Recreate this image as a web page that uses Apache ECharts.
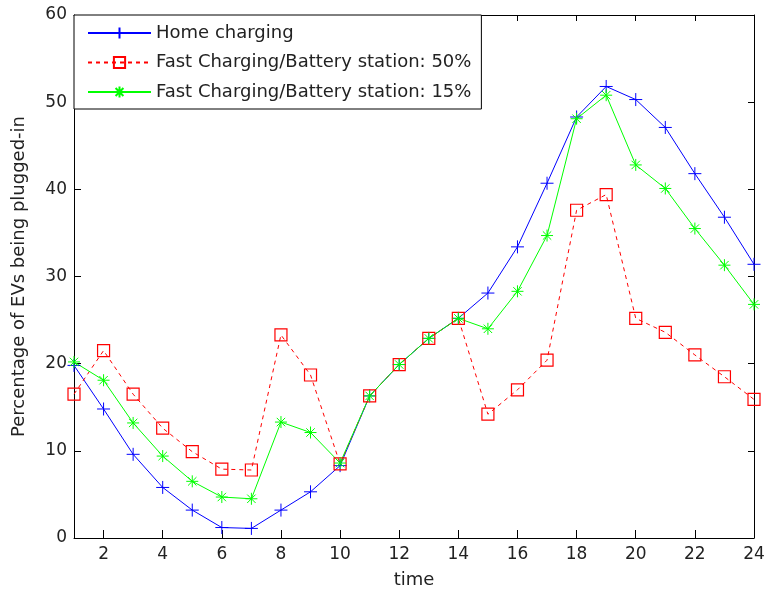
<!DOCTYPE html>
<html>
<head>
<meta charset="utf-8">
<script src="https://cdn.jsdelivr.net/npm/echarts@6/dist/echarts.min.js"></script>
<style>html,body{margin:0;padding:0;background:#fff}#c{width:766px;height:591px}</style>
</head>
<body>
<div id="c"></div>
<script>
var hours = [1,2,3,4,5,6,7,8,9,10,11,12,13,14,15,16,17,18,19,20,21,22,23,24];
var homeCharging = [19.8,14.8,9.6,5.8,3.2,1.2,1.1,3.2,5.3,8.3,16.3,19.9,22.9,25.2,28.1,33.4,40.7,48.3,51.8,50.3,47.1,41.8,36.8,31.4];
var fast50 = [16.5,21.5,16.5,12.6,9.9,7.9,7.8,23.3,18.7,8.5,16.3,19.9,22.9,25.2,14.2,17.0,20.4,37.6,39.4,25.2,23.6,21.0,18.5,15.9];
var fast15 = [20.2,18.1,13.2,9.4,6.5,4.7,4.5,13.3,12.1,8.6,16.3,19.9,22.9,25.2,24.0,28.3,34.7,48.1,50.8,42.8,40.1,35.5,31.3,26.8];
var seriesNames = ['Home charging','Fast Charging/Battery station: 50%','Fast Charging/Battery station: 15%'];
var xTicks = [2,4,6,8,10,12,14,16,18,20,22,24];

function pairs(vals){ return hours.map(function(h,i){ return [h, vals[i]]; }); }

var FONT = 'DejaVu Sans';
var plusPath = 'path://M0,-10L0,10M-10,0L10,0';
var starPath = 'path://M0,-10L0,10M-10,0L10,0M-7,-7L7,7M-7,7L7,-7';

var chart = echarts.init(document.getElementById('c'), null, {renderer:'canvas'});
chart.setOption({
  animation: false,
  backgroundColor: '#fff',
  grid: {left: 74, right: 12, top: 15, bottom: 53, containLabel: false, outerBoundsMode: 'none'},
  legend: {
    orient: 'vertical',
    left: 74, top: 15,
    padding: [8, 10, 7, 13],
    itemWidth: 63, itemHeight: 14, itemGap: 9.5,
    backgroundColor: '#fff',
    borderColor: '#000', borderWidth: 1, borderRadius: 0,
    textStyle: {fontFamily: FONT, fontSize: 18, color: '#222', lineHeight: 20},
    data: seriesNames
  },
  xAxis: [{
    type: 'value', min: 1, max: 24, position: 'bottom',
    name: 'time', nameLocation: 'middle', nameGap: 33,
    nameTextStyle: {fontFamily: FONT, fontSize: 18, color: '#222'},
    axisLine: {show: true, onZero: false, lineStyle: {color: '#000', width: 1}},
    axisTick: {show: true, inside: true, length: 8, customValues: xTicks, lineStyle: {color: '#000'}},
    axisLabel: {show: true, customValues: xTicks, fontFamily: FONT, fontSize: 17, color: '#222', margin: 8},
    splitLine: {show: false}
  }, {
    type: 'value', min: 1, max: 24, position: 'top',
    axisLine: {show: true, onZero: false, lineStyle: {color: '#000', width: 1}},
    axisTick: {show: true, inside: true, length: 6, customValues: xTicks, lineStyle: {color: '#000'}},
    axisLabel: {show: false},
    splitLine: {show: false}
  }],
  yAxis: [{
    type: 'value', min: 0, max: 60, interval: 10, position: 'left',
    name: 'Percentage of EVs being plugged-in', nameLocation: 'middle', nameGap: 46,
    nameTextStyle: {fontFamily: FONT, fontSize: 18, color: '#222'},
    axisLine: {show: true, onZero: false, lineStyle: {color: '#000', width: 1}},
    axisTick: {show: true, inside: true, length: 7, lineStyle: {color: '#000'}},
    axisLabel: {fontFamily: FONT, fontSize: 17, color: '#222', margin: 7},
    splitLine: {show: false}
  }, {
    type: 'value', min: 0, max: 60, interval: 10, position: 'right',
    axisLine: {show: true, onZero: false, lineStyle: {color: '#000', width: 1}},
    axisTick: {show: true, inside: true, length: 6, lineStyle: {color: '#000'}},
    axisLabel: {show: false},
    splitLine: {show: false}
  }],
  series: [{
    name: seriesNames[0], type: 'line', xAxisIndex: 0, yAxisIndex: 0,
    data: pairs(homeCharging),
    symbol: plusPath, symbolSize: 13,
    lineStyle: {color: '#0000ff', width: 1},
    itemStyle: {color: '#0000ff', borderColor: '#0000ff', borderWidth: 1}
  }, {
    name: seriesNames[1], type: 'line', xAxisIndex: 0, yAxisIndex: 0,
    data: pairs(fast50),
    symbol: 'rect', symbolSize: 12,
    lineStyle: {color: '#ff0000', width: 1, type: [4, 4]},
    itemStyle: {color: 'rgba(255,255,255,0)', borderColor: '#ff0000', borderWidth: 1.2}
  }, {
    name: seriesNames[2], type: 'line', xAxisIndex: 0, yAxisIndex: 0,
    data: pairs(fast15),
    symbol: starPath, symbolSize: 12,
    lineStyle: {color: '#00ff00', width: 1},
    itemStyle: {color: '#00ff00', borderColor: '#00ff00', borderWidth: 1}
  }]
});
</script>
</body>
</html>
